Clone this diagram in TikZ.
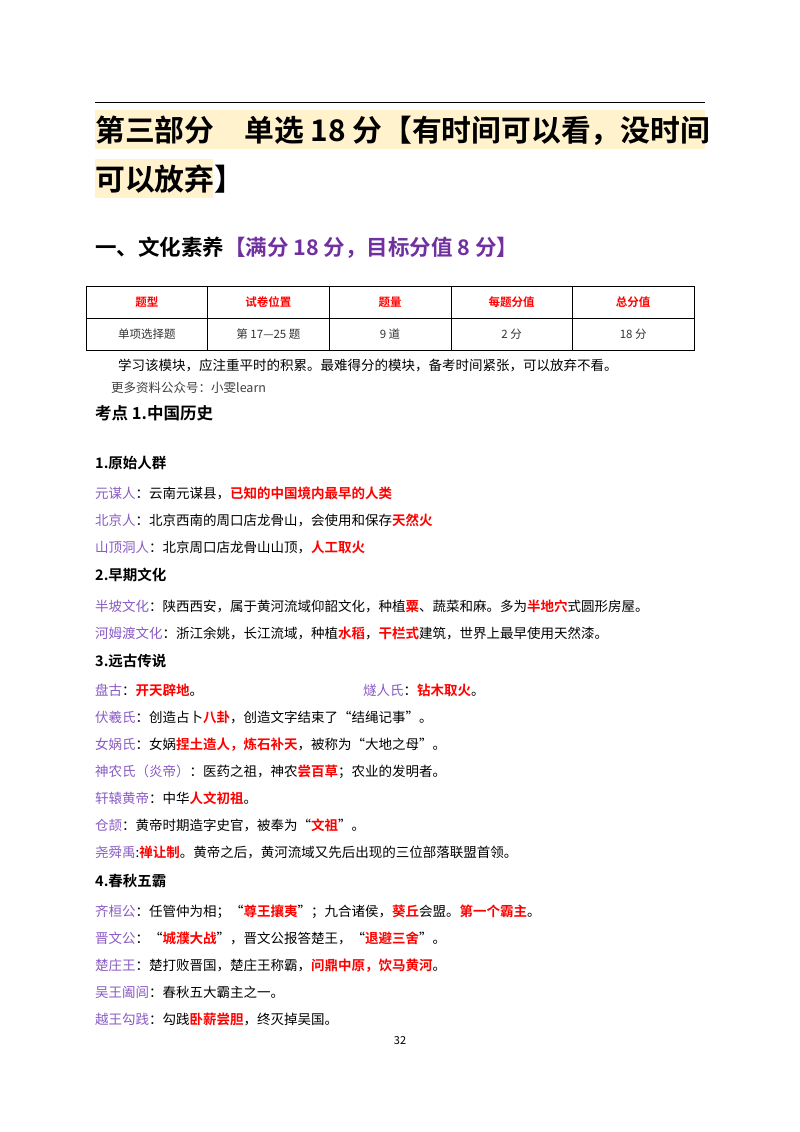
\documentclass[tikz,border=0pt]{standalone}
\usepackage{fontspec}
\setmainfont{Noto Sans CJK SC}[BoldFont={Noto Sans CJK SC Bold}]
\definecolor{pur}{HTML}{7030A0}
\definecolor{lpur}{HTML}{8A5BC4}
\definecolor{rd}{HTML}{FF0000}
\definecolor{hl}{HTML}{FFF2CC}
\newcommand\Pu[1]{\textcolor{lpur}{#1}}
\newcommand\Rd[1]{\textcolor{rd}{\bfseries #1}}
\begin{document}
\begin{tikzpicture}[x=1pt,y=-1pt,
  txt/.style={anchor=base west,inner sep=0pt,font=\fontsize{13.5}{14}\selectfont},
  head/.style={anchor=base west,inner sep=0pt,font=\fontsize{14.5}{16}\selectfont\bfseries},
  cell/.style={anchor=center,inner sep=0pt,font=\fontsize{11.5}{12}\selectfont}]
\useasboundingbox (0,0) rectangle (800,1132);
\fill[white] (0,0) rectangle (800,1132);
\draw[line width=1pt] (95,102) -- (705,102);
\fill[hl] (95,110) rectangle (705,149);
\fill[hl] (95,159) rectangle (213,198);
\node[anchor=base west,inner sep=0pt,font=\fontsize{29.8}{30}\selectfont\bfseries] (t1) at (95,141) {第三部分\hspace{1em}单选 18 分【有时间可以看，没时间};
\node[anchor=base west,inner sep=0pt,font=\fontsize{29.8}{30}\selectfont\bfseries] (t2) at (95,190) {可以放弃】};
\node[anchor=base west,inner sep=0pt,font=\fontsize{21.5}{22}\selectfont\bfseries] (h1) at (95,255) {一、文化素养\textcolor{pur}{【满分 18 分，目标分值 8 分】}};
% table
\draw[line width=0.8pt] (86,286) rectangle (694,350);
\draw[line width=0.6pt] (86,318) -- (694,318);
\foreach \i in {1,...,4} \draw[line width=0.6pt] (86+121.6*\i,286) -- (86+121.6*\i,350);
\foreach \t [count=\i] in {题型,试卷位置,题量,每题分值,总分值}
  \node[cell,text=rd,font=\fontsize{11.5}{12}\selectfont\bfseries] (c\i) at (86+121.6*\i-60.8,302) {\t};
\foreach \t [count=\i] in {单项选择题,第 17—25 题,9 道,2 分,18 分}
  \node[cell,text=black!80] (d\i) at (86+121.6*\i-60.8,334) {\t};
\node[txt] (n1) at (118,370) {学习该模块，应注重平时的积累。最难得分的模块，备考时间紧张，可以放弃不看。};
\node[txt,text=black!75,font=\fontsize{12.5}{14}\selectfont] (n2) at (111,392) {更多资料公众号：小雯learn};
\node[anchor=base west,inner sep=0pt,font=\fontsize{16.5}{18}\selectfont\bfseries] (k1) at (95,419) {考点 1.中国历史};
\node[head] (s1) at (95,468) {1.原始人群};
\node[txt] (a1) at (95,498) {\Pu{元谋人}：云南元谋县，\Rd{已知的中国境内最早的人类}};
\node[txt] (a2) at (95,525) {\Pu{北京人}：北京西南的周口店龙骨山，会使用和保存\Rd{天然火}};
\node[txt] (a3) at (95,552) {\Pu{山顶洞人}：北京周口店龙骨山山顶，\Rd{人工取火}};
\node[head] (s2) at (95,580) {2.早期文化};
\node[txt] (b1) at (95,611) {\Pu{半坡文化}：陕西西安，属于黄河流域仰韶文化，种植\Rd{粟}、蔬菜和麻。多为\Rd{半地穴}式圆形房屋。};
\node[txt] (b2) at (95,638) {\Pu{河姆渡文化}：浙江余姚，长江流域，种植\Rd{水稻}，\Rd{干栏式}建筑，世界上最早使用天然漆。};
\node[head] (s3) at (95,666) {3.远古传说};
\node[txt] (c1) at (95,695) {\Pu{盘古}：\Rd{开天辟地}。};
\node[txt] (c2) at (363,695) {\Pu{燧人氏}：\Rd{钻木取火}。};
\node[txt] (c3) at (95,722) {\Pu{伏羲氏}：创造占卜\Rd{八卦}，创造文字结束了“结绳记事”。};
\node[txt] (c4) at (95,749) {\Pu{女娲氏}：女娲\Rd{捏土造人，炼石补天}，被称为“大地之母”。};
\node[txt] (c5) at (95,776) {\Pu{神农氏（炎帝）}：医药之祖，神农\Rd{尝百草}；农业的发明者。};
\node[txt] (c6) at (95,803) {\Pu{轩辕黄帝}：中华\Rd{人文初祖}。};
\node[txt] (c7) at (95,830) {\Pu{仓颉}：黄帝时期造字史官，被奉为“\Rd{文祖}”。};
\node[txt] (c8) at (95,857) {\Pu{尧舜禹}:\Rd{禅让制}。黄帝之后，黄河流域又先后出现的三位部落联盟首领。};
\node[head] (s4) at (95,886) {4.春秋五霸};
\node[txt] (e1) at (95,916) {\Pu{齐桓公}：任管仲为相；“\Rd{尊王攘夷}”；九合诸侯，\Rd{葵丘}会盟。\Rd{第一个霸主}。};
\node[txt] (e2) at (95,943) {\Pu{晋文公}：“\Rd{城濮大战}”，晋文公报答楚王，“\Rd{退避三舍}”。};
\node[txt] (e3) at (95,970) {\Pu{楚庄王}：楚打败晋国，楚庄王称霸，\Rd{问鼎中原，饮马黄河}。};
\node[txt] (e4) at (95,997) {\Pu{吴王阖闾}：春秋五大霸主之一。};
\node[txt] (e5) at (95,1024) {\Pu{越王勾践}：勾践\Rd{卧薪尝胆}，终灭掉吴国。};
\node[anchor=center,inner sep=0pt,font=\fontsize{11}{12}\selectfont] (pg) at (400,1041) {32};
\end{tikzpicture}
\end{document}
